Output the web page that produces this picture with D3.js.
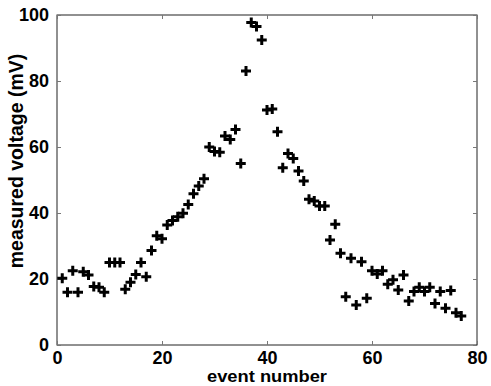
<!DOCTYPE html>
<html>
<head>
<meta charset="utf-8">
<script src="https://cdn.jsdelivr.net/npm/d3@7"></script>
<style>
  body { margin: 0; background: #fff; }
  text { font-family: "Liberation Sans", Arial, sans-serif; font-weight: bold; }
</style>
</head>
<body>
<svg width="491" height="386"></svg>
<script>
// measured voltage per event (mV), events 1..77
const events = d3.range(1, 78);
const voltage = [
  20.2, 16, 22.5, 16, 22.2, 21.2, 17.7, 17.5, 16, 25,
  25, 25, 16.9, 19, 21.4, 25, 20.7, 28.6, 33.1, 32.2,
  36.4, 37.7, 38.9, 39.9, 42.6, 45.8, 48.2, 50.4, 60, 58.6,
  58.4, 63.3, 62.3, 65.3, 55, 83, 97.7, 96.5, 92.4, 71.2,
  71.5, 64.6, 53.7, 58, 56.5, 52.7, 49.7, 44.2, 43.6, 42.1,
  42.1, 31.8, 36.6, 27.8, 14.6, 26.3, 12.1, 25.2, 14.2, 22.5,
  21.5, 22.5, 18.4, 19.8, 16.7, 21.2, 13.3, 16.2, 17.5, 16.2,
  17.5, 12.6, 16.2, 11.1, 16.5, 9.8, 8.8
];
const xTicks = [0, 20, 40, 60, 80];
const yTicks = [0, 20, 40, 60, 80, 100];

const data = events.map((e, i) => ({ x: e, y: voltage[i] }));

const svg = d3.select('svg');
const m = { left: 57, right: 477, top: 15, bottom: 345 };

const x = d3.scaleLinear().domain([0, 80]).range([m.left, m.right]);
const y = d3.scaleLinear().domain([0, 100]).range([m.bottom, m.top]);

// frame
svg.append('rect')
  .attr('x', m.left).attr('y', m.top)
  .attr('width', m.right - m.left).attr('height', m.bottom - m.top)
  .attr('fill', 'none').attr('stroke', '#222').attr('stroke-width', 1);

// bottom axis with labels
svg.append('g')
  .attr('transform', `translate(0,${m.bottom})`)
  .call(d3.axisBottom(x).tickValues(xTicks).tickSize(-4).tickPadding(6));
// top mirror ticks
svg.append('g')
  .attr('transform', `translate(0,${m.top})`)
  .call(d3.axisTop(x).tickValues(xTicks).tickSize(-4).tickFormat(''));
// left axis with labels
svg.append('g')
  .attr('transform', `translate(${m.left},0)`)
  .call(d3.axisLeft(y).tickValues(yTicks).tickSize(-4).tickPadding(8));
// right mirror ticks
svg.append('g')
  .attr('transform', `translate(${m.right},0)`)
  .call(d3.axisRight(y).tickValues(yTicks).tickSize(-4).tickFormat(''));

svg.selectAll('.domain').remove();
svg.selectAll('.tick line').attr('stroke', '#777');
svg.selectAll('.tick text')
  .attr('fill', '#000')
  .style('font-size', '18px')
  .style('font-family', '"Liberation Sans", Arial, sans-serif')
  .style('font-weight', 'bold');

// plus markers
const plus = 'M-5,0H5M0,-5V5';
svg.append('g')
  .selectAll('path')
  .data(data)
  .join('path')
  .attr('transform', (d) => `translate(${x(d.x)},${y(d.y)})`)
  .attr('d', plus)
  .attr('stroke', '#000')
  .attr('stroke-width', 3)
  .attr('fill', 'none');

// axis titles
svg.append('text')
  .attr('x', (m.left + m.right) / 2)
  .attr('y', 382.4)
  .attr('text-anchor', 'middle')
  .attr('textLength', 120)
  .attr('lengthAdjust', 'spacingAndGlyphs')
  .style('font-size', '16.5px')
  .text('event number');

svg.append('text')
  .attr('transform', 'translate(23,161) rotate(-90)')
  .attr('text-anchor', 'middle')
  .style('font-size', '19.5px')
  .text('measured voltage (mV)');
</script>
</body>
</html>
